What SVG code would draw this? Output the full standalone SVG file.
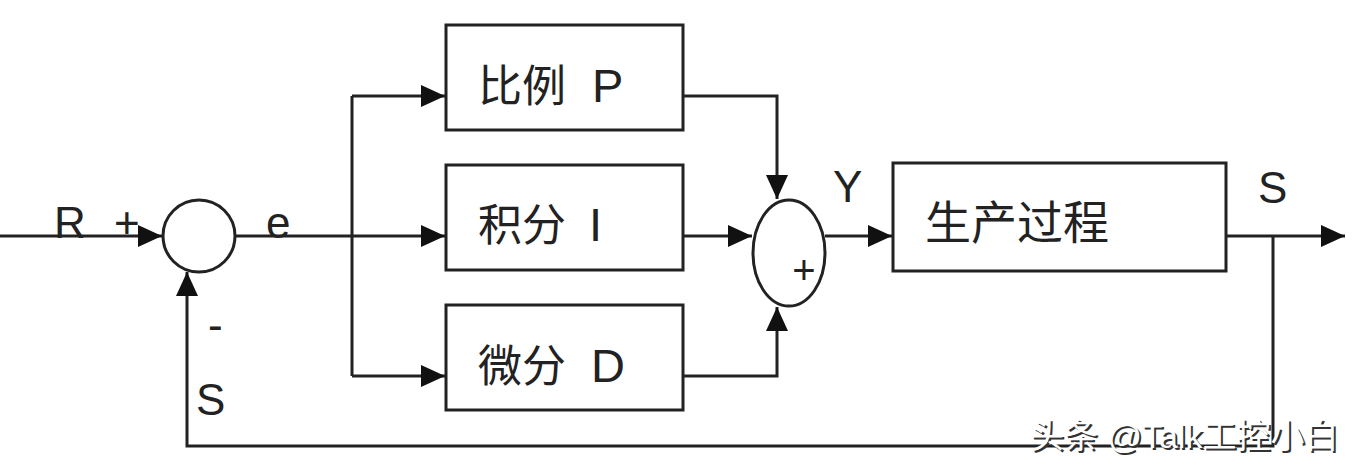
<svg xmlns="http://www.w3.org/2000/svg" width="1369" height="467" viewBox="0 0 1369 467">
<defs>
<style>
.ln{fill:none;stroke:#222;stroke-width:3}
.bx{fill:#fff;stroke:#222;stroke-width:3}
.t{font-family:"Liberation Sans","Noto Sans CJK SC",sans-serif;font-size:44px;fill:#222}
.lt{font-size:47px}
.lb{font-family:"Liberation Sans","Noto Sans CJK SC",sans-serif;font-size:44px;fill:#222}
.wm{font-family:"Liberation Sans","Noto Sans CJK SC",sans-serif;font-size:34px}
</style>
<marker id="ah" markerUnits="userSpaceOnUse" markerWidth="26" markerHeight="24" refX="24" refY="11" orient="auto">
<path d="M0,0 L24,11 L0,22 z" fill="#111"/>
</marker>
</defs>
<rect width="1369" height="467" fill="#fff"/>
<g id="connectors">
<path class="ln" d="M0,236 H162" marker-end="url(#ah)"/>
<path class="ln" d="M235,236 H352"/>
<path class="ln" d="M352,96 V376"/>
<path class="ln" d="M352,96 H445" marker-end="url(#ah)"/>
<path class="ln" d="M352,236 H445" marker-end="url(#ah)"/>
<path class="ln" d="M352,376 H445" marker-end="url(#ah)"/>
<path class="ln" d="M683,96 H777 V199" marker-end="url(#ah)"/>
<path class="ln" d="M683,236 H752" marker-end="url(#ah)"/>
<path class="ln" d="M683,376 H777 V307" marker-end="url(#ah)"/>
<path class="ln" d="M825,236 H892" marker-end="url(#ah)"/>
<path class="ln" d="M1226,236 H1345" marker-end="url(#ah)"/>
<path class="ln" d="M1273,236 V446 H187 V272" marker-end="url(#ah)"/>
</g>
<g id="sum1"><circle cx="199" cy="236" r="36" class="bx"/></g>
<g id="sum2"><ellipse cx="789" cy="253" rx="36" ry="53" class="bx"/>
<text x="804" y="284" text-anchor="middle" style="font-family:'Liberation Sans',sans-serif;font-size:40px;fill:#222">+</text></g>
<g id="boxP"><rect x="446" y="25" width="237" height="105" class="bx"/><text x="478" y="102" class="t">比例<tspan x="592" class="lt">P</tspan></text></g>
<g id="boxI"><rect x="446" y="165" width="237" height="105" class="bx"/><text x="478" y="241" class="t">积分<tspan x="589" class="lt">I</tspan></text></g>
<g id="boxD"><rect x="446" y="305" width="237" height="105" class="bx"/><text x="478" y="382" class="t">微分<tspan x="591" class="lt">D</tspan></text></g>
<g id="process"><rect x="893" y="163" width="333" height="108" class="bx"/><text x="925" y="239" class="t" style="font-size:46px">生产过程</text></g>
<g id="labels">
<text x="54" y="238" class="lb">R</text>
<text x="114" y="238" class="lb">+</text>
<text x="266" y="238" class="lb">e</text>
<text x="833" y="202" class="lb">Y</text>
<text x="1258" y="203" class="lb">S</text>
<text x="208" y="340" class="lb">-</text>
<text x="196" y="415" class="lb">S</text>
</g>
<g id="watermark">
<text x="1032" y="450" class="wm" fill="#333">头条 @Talk工控小白</text>
<text x="1030" y="448" class="wm" fill="#fff">头条 @Talk工控小白</text>
</g>
</svg>
